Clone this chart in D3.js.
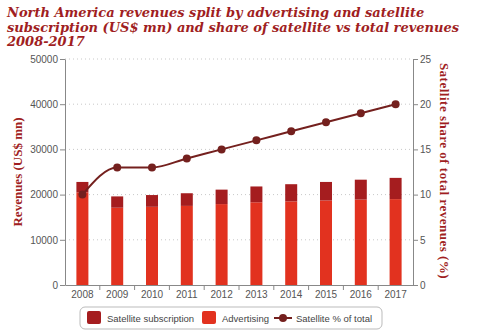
<!DOCTYPE html>
<html>
<head>
<meta charset="utf-8">
<script src="https://cdn.jsdelivr.net/npm/d3@7"></script>
<style>
  body { margin: 0; background: #fff; }
  svg { display: block; }
</style>
</head>
<body>
<div id="chart"></div>
<script>
const years = ['2008', '2009', '2010', '2011', '2012', '2013', '2014', '2015', '2016', '2017'];
const advertising = [20500, 17100, 17300, 17500, 17900, 18300, 18500, 18700, 18900, 19000];
const satellite = [2300, 2500, 2600, 2800, 3200, 3500, 3800, 4100, 4400, 4700];
const satelliteShare = [10, 13, 13, 14, 15, 16, 17, 18, 19, 20];
const leftTicks = [0, 10000, 20000, 30000, 40000, 50000];
const rightTicks = [0, 5, 10, 15, 20, 25];
const titleLines = [
    'North America revenues split by advertising and satellite',
    'subscription (US$ mn) and share of satellite vs total revenues',
    '2008-2017'
];

const width = 480, height = 336;
const margin = { top: 59, right: 67, bottom: 51, left: 65 };
const plotW = width - margin.left - margin.right;
const plotH = height - margin.top - margin.bottom;

const colSat = '#a51d1f';
const colAdv = '#e2321f';
const colLine = '#74201e';
const titleCol = '#a01e22';

const svg = d3.select('#chart').append('svg')
    .attr('width', width)
    .attr('height', height);

// Title
svg.append('g').selectAll('text')
    .data(titleLines)
    .enter()
    .append('text')
    .attr('x', 7)
    .attr('y', (d, i) => 17 + i * 14.5)
    .attr('fill', titleCol)
    .style('font-family', '"DejaVu Serif", serif')
    .style('font-weight', 'bold')
    .style('font-style', 'italic')
    .style('font-size', '13px')
    .text(d => d);

const g = svg.append('g').attr('transform', `translate(${margin.left},${margin.top})`);

const x = d3.scaleBand().domain(years).range([0, plotW]);
const yL = d3.scaleLinear().domain([0, 50000]).range([plotH, 0]);
const yR = d3.scaleLinear().domain([0, 25]).range([plotH, 0]);

// Gridlines
g.append('g').selectAll('line')
    .data(leftTicks.slice(1))
    .enter()
    .append('line')
    .attr('x1', 0).attr('x2', plotW)
    .attr('y1', d => yL(d)).attr('y2', d => yL(d))
    .attr('stroke', '#c8c8c8')
    .attr('stroke-dasharray', '1,3');

// Bars
const barW = 12;
g.append('g').selectAll('rect')
    .data(years)
    .enter()
    .append('rect')
    .attr('x', d => x(d) + x.bandwidth() / 2 - barW / 2)
    .attr('width', barW)
    .attr('y', (d, i) => yL(advertising[i]))
    .attr('height', (d, i) => plotH - yL(advertising[i]))
    .attr('fill', colAdv);

g.append('g').selectAll('rect')
    .data(years)
    .enter()
    .append('rect')
    .attr('x', d => x(d) + x.bandwidth() / 2 - barW / 2)
    .attr('width', barW)
    .attr('y', (d, i) => yL(advertising[i] + satellite[i]))
    .attr('height', (d, i) => yL(advertising[i]) - yL(advertising[i] + satellite[i]))
    .attr('fill', colSat);

// Line
const line = d3.line()
    .x((d, i) => x(years[i]) + x.bandwidth() / 2)
    .y(d => yR(d))
    .curve(d3.curveMonotoneX);

g.append('path')
    .datum(satelliteShare)
    .attr('d', line)
    .attr('fill', 'none')
    .attr('stroke', colLine)
    .attr('stroke-width', 2);

g.append('g').selectAll('circle')
    .data(satelliteShare)
    .enter()
    .append('circle')
    .attr('cx', (d, i) => x(years[i]) + x.bandwidth() / 2)
    .attr('cy', d => yR(d))
    .attr('r', 4)
    .attr('fill', colLine);

// Axes
const tickFont = g => g.selectAll('text')
    .attr('fill', '#555')
    .style('font-family', '"Liberation Sans", Arial, sans-serif')
    .style('font-size', '10px');

const axisL = g.append('g')
    .call(d3.axisLeft(yL).tickValues(leftTicks).tickFormat(d3.format('d'))
        .tickSize(5).tickPadding(2).tickSizeOuter(0));
axisL.selectAll('line, path').attr('stroke', '#888');
tickFont(axisL);

const axisR = g.append('g')
    .attr('transform', `translate(${plotW},0)`)
    .call(d3.axisRight(yR).tickValues(rightTicks).tickSize(5).tickPadding(2).tickSizeOuter(0));
axisR.selectAll('line, path').attr('stroke', '#888');
tickFont(axisR);

const axisB = g.append('g')
    .attr('transform', `translate(0,${plotH})`)
    .call(d3.axisBottom(x).tickSize(0).tickPadding(6).tickSizeOuter(0));
axisB.select('path').attr('stroke', '#888');
tickFont(axisB);

// band separator ticks
axisB.append('g').selectAll('line')
    .data(years.slice(1))
    .enter()
    .append('line')
    .attr('x1', d => x(d)).attr('x2', d => x(d))
    .attr('y1', 0).attr('y2', 5)
    .attr('stroke', '#888');

// Axis titles
const axisTitle = (sel) => sel
    .attr('fill', titleCol)
    .attr('text-anchor', 'middle')
    .style('font-family', '"Liberation Serif", serif')
    .style('font-weight', 'bold')
    .style('font-size', '13px');

svg.append('text')
    .attr('transform', `translate(22,${margin.top + plotH / 2}) rotate(-90)`)
    .call(axisTitle)
    .text('Revenues (US$ mn)');

svg.append('text')
    .attr('transform', `translate(440,${margin.top + plotH / 2 - 1}) rotate(90)`)
    .call(axisTitle)
    .style('letter-spacing', '0.5px')
    .text('Satellite share of total revenues (%)');

// Legend
const lg = svg.append('g').attr('transform', 'translate(80,307)');
lg.append('rect')
    .attr('width', 302).attr('height', 22)
    .attr('rx', 5)
    .attr('fill', '#fff')
    .attr('stroke', '#bbb');

const legendFont = sel => sel
    .attr('fill', '#444')
    .style('font-family', '"Liberation Sans", Arial, sans-serif')
    .style('font-size', '9.5px');

lg.append('rect').attr('x', 7).attr('y', 4).attr('width', 14).attr('height', 13).attr('rx', 2).attr('fill', colSat);
lg.append('text').attr('x', 27).attr('y', 14.5).call(legendFont).text('Satellite subscription');
lg.append('rect').attr('x', 122).attr('y', 4).attr('width', 14).attr('height', 13).attr('rx', 2).attr('fill', colAdv);
lg.append('text').attr('x', 142).attr('y', 14.5).call(legendFont).text('Advertising');
lg.append('line').attr('x1', 194).attr('x2', 212).attr('y1', 11).attr('y2', 11).attr('stroke', colLine).attr('stroke-width', 2);
lg.append('circle').attr('cx', 203).attr('cy', 11).attr('r', 4).attr('fill', colLine);
lg.append('text').attr('x', 216).attr('y', 14.5).call(legendFont).text('Satellite % of total');
</script>
</body>
</html>
